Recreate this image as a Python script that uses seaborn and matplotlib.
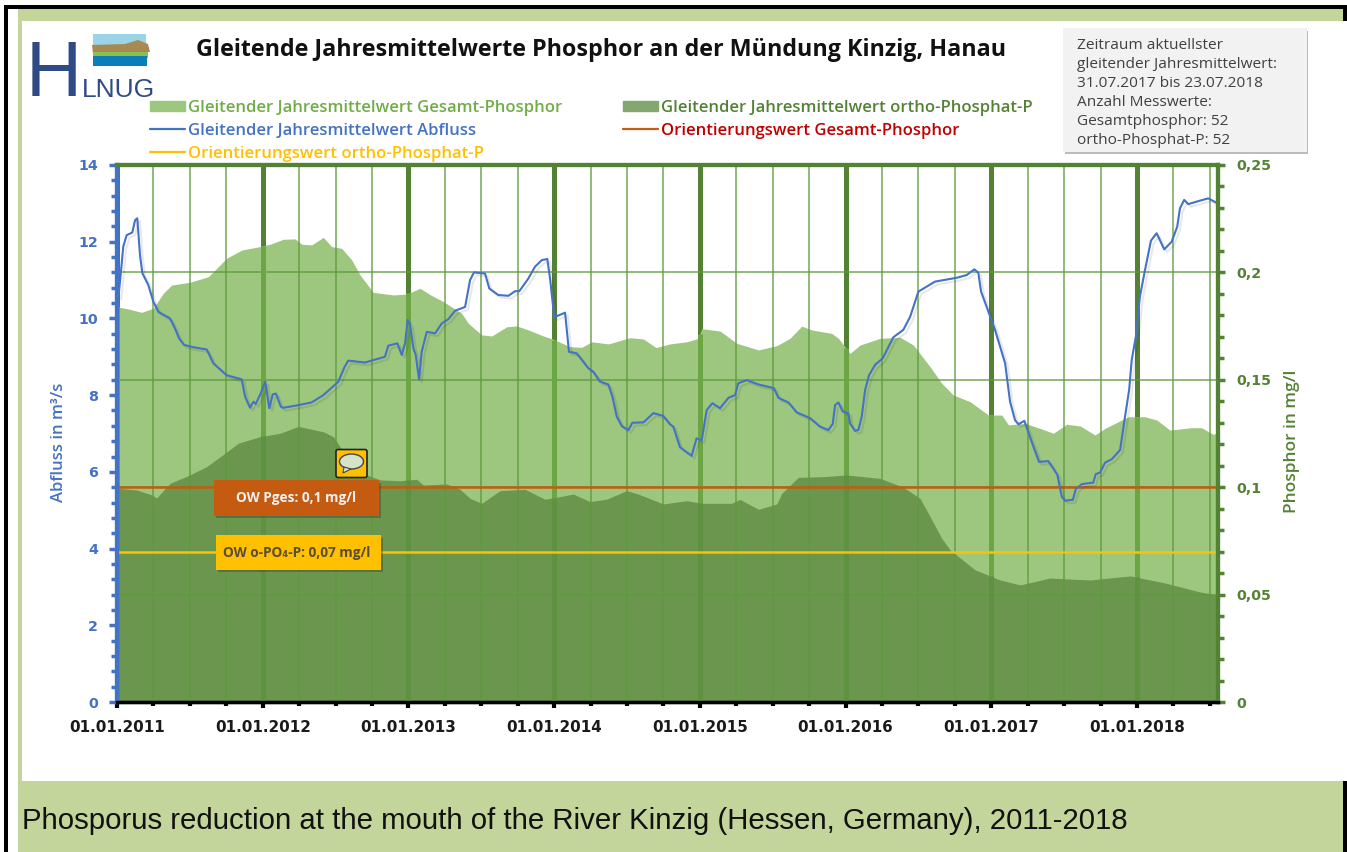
import matplotlib
matplotlib.use("Agg")
import matplotlib.pyplot as plt
import matplotlib.patheffects as pe
import seaborn as sns
import numpy as np
from matplotlib.lines import Line2D
from matplotlib.patches import Patch, Rectangle, Ellipse, Polygon, FancyBboxPatch

W, H = 1347, 852

# Gleitender Jahresmittelwert Abfluss (m3/s): decimal year, value
abfluss_t = [2011.01, 2011.025, 2011.043, 2011.066, 2011.105, 2011.124, 2011.139, 2011.158, 2011.174, 2011.215,
             2011.249, 2011.284, 2011.364, 2011.398, 2011.426, 2011.46, 2011.524, 2011.616, 2011.661, 2011.753,
             2011.856, 2011.879, 2011.913, 2011.936, 2011.952, 2011.981, 2012.018, 2012.045, 2012.069, 2012.091,
             2012.124, 2012.141, 2012.233, 2012.336, 2012.416, 2012.519, 2012.56, 2012.587, 2012.702, 2012.839,
             2012.862, 2012.924, 2012.954, 2012.977, 2012.995, 2013.011, 2013.034, 2013.05, 2013.073, 2013.091,
             2013.126, 2013.183, 2013.229, 2013.274, 2013.32, 2013.389, 2013.423, 2013.45, 2013.526, 2013.555,
             2013.617, 2013.686, 2013.732, 2013.761, 2013.823, 2013.869, 2013.915, 2013.953, 2013.972, 2014.001,
             2014.075, 2014.102, 2014.155, 2014.235, 2014.269, 2014.315, 2014.372, 2014.40, 2014.43, 2014.465,
             2014.51, 2014.537, 2014.613, 2014.681, 2014.749, 2014.795, 2014.818, 2014.864, 2014.944, 2014.977,
             2015.013, 2015.047, 2015.086, 2015.139, 2015.196, 2015.242, 2015.264, 2015.322, 2015.402, 2015.509,
             2015.539, 2015.608, 2015.665, 2015.757, 2015.825, 2015.882, 2015.912, 2015.928, 2015.951, 2015.981,
             2016.019, 2016.031, 2016.065, 2016.088, 2016.111, 2016.134, 2016.161, 2016.203, 2016.255, 2016.328,
             2016.396, 2016.443, 2016.5, 2016.614, 2016.763, 2016.831, 2016.884, 2016.911, 2016.93, 2016.985,
             2017.026, 2017.095, 2017.11, 2017.129, 2017.163, 2017.186, 2017.227, 2017.273, 2017.328, 2017.392,
             2017.454, 2017.484, 2017.507, 2017.56, 2017.58, 2017.621, 2017.70, 2017.717, 2017.746, 2017.781,
             2017.827, 2017.884, 2017.918, 2017.946, 2017.964, 2017.992, 2018.02, 2018.055, 2018.096, 2018.135,
             2018.187, 2018.238, 2018.276, 2018.295, 2018.324, 2018.352, 2018.432, 2018.489, 2018.554]
abfluss = [10.57, 11.13, 11.87, 12.17, 12.24, 12.56, 12.61, 11.65, 11.18, 10.87,
           10.44, 10.17, 10.0, 9.74, 9.48, 9.31, 9.25, 9.19, 8.83, 8.52,
           8.41, 7.96, 7.67, 7.83, 7.77, 8.0, 8.35, 7.66, 8.02, 8.04,
           7.70, 7.67, 7.73, 7.81, 8.0, 8.35, 8.72, 8.9, 8.85, 9.0,
           9.29, 9.35, 9.05, 9.35, 9.96, 9.83, 9.22, 9.05, 8.41, 9.13,
           9.65, 9.61, 9.87, 9.98, 10.2, 10.3, 11.0, 11.2, 11.17, 10.78,
           10.61, 10.59, 10.71, 10.71, 11.04, 11.35, 11.52, 11.55, 11.04, 10.03,
           10.15, 9.13, 9.09, 8.7, 8.61, 8.35, 8.28, 7.96, 7.44, 7.19,
           7.09, 7.28, 7.29, 7.53, 7.46, 7.24, 7.18, 6.64, 6.42, 6.87,
           6.83, 7.61, 7.79, 7.66, 7.93, 8.0, 8.31, 8.39, 8.28, 8.18,
           7.93, 7.81, 7.55, 7.4, 7.18, 7.09, 7.25, 7.74, 7.81, 7.57,
           7.53, 7.26, 7.07, 7.09, 7.44, 8.13, 8.52, 8.79, 8.96, 9.51,
           9.7, 10.04, 10.7, 10.96, 11.06, 11.13, 11.28, 11.19, 10.7, 10.13,
           9.70, 8.83, 8.39, 7.83, 7.35, 7.24, 7.33, 6.83, 6.26, 6.28,
           5.92, 5.35, 5.25, 5.27, 5.55, 5.68, 5.72, 5.94, 5.98, 6.24,
           6.33, 6.57, 7.44, 8.13, 8.92, 9.52, 10.57, 11.26, 12.03, 12.22,
           11.8, 12.0, 12.39, 12.87, 13.09, 12.98, 13.07, 13.13, 13.0]

# Gleitender Jahresmittelwert Gesamt-Phosphor (mg/l)
gesamt_t = [2011.0, 2011.089, 2011.169, 2011.249, 2011.318, 2011.375, 2011.501, 2011.627, 2011.753, 2011.856,
            2011.981, 2012.05, 2012.141, 2012.222, 2012.268, 2012.336, 2012.416, 2012.473, 2012.542, 2012.611,
            2012.668, 2012.759, 2012.896, 2012.988, 2013.08, 2013.16, 2013.24, 2013.366, 2013.411, 2013.503,
            2013.572, 2013.675, 2013.743, 2013.835, 2013.926, 2013.994, 2014.109, 2014.189, 2014.258, 2014.372,
            2014.521, 2014.613, 2014.699, 2014.795, 2014.91, 2014.99, 2015.013, 2015.139, 2015.253, 2015.402,
            2015.528, 2015.619, 2015.699, 2015.768, 2015.905, 2015.951, 2016.031, 2016.1, 2016.237, 2016.374,
            2016.465, 2016.58, 2016.66, 2016.74, 2016.855, 2016.98, 2017.072, 2017.118, 2017.232, 2017.346,
            2017.426, 2017.518, 2017.61, 2017.712, 2017.781, 2017.941, 2018.055, 2018.135, 2018.226, 2018.375,
            2018.443, 2018.523, 2018.556]
gesamt = [.184, .1828, .1814, .1833, .1903, .1941, .1954, .198, .2066, .2104,
          .212, .2131, .2154, .2156, .2131, .2128, .2163, .212, .2112, .2058,
          .1988, .1907, .1895, .1899, .1926, .1892, .1864, .1809, .1763, .1709,
          .1704, .1747, .1751, .1729, .1704, .1689, .1654, .1651, .1677, .1667,
          .1696, .169, .165, .1667, .1677, .1693, .1738, .1727, .167, .1639,
          .1659, .1693, .175, .1732, .1716, .1693, .1623, .1662, .1693, .1698,
          .1662, .1561, .1484, .1429, .1398, .1336, .1336, .129, .1297, .1271,
          .1251, .1293, .1285, .1243, .1274, .1328, .1328, .1313, .1266, .1277,
          .1277, .1246, .1254]

# Gleitender Jahresmittelwert ortho-Phosphat-P (mg/l)
ortho_t = [2011.0, 2011.135, 2011.238, 2011.272, 2011.364, 2011.49, 2011.616, 2011.741, 2011.833, 2011.981,
           2012.12, 2012.244, 2012.416, 2012.485, 2012.553, 2012.714, 2012.805, 2012.942, 2013.057, 2013.102,
           2013.263, 2013.354, 2013.423, 2013.503, 2013.629, 2013.80, 2013.937, 2014.04, 2014.131, 2014.246,
           2014.36, 2014.498, 2014.578, 2014.749, 2014.91, 2015.013, 2015.219, 2015.276, 2015.402, 2015.528,
           2015.562, 2015.676, 2015.848, 2016.008, 2016.237, 2016.396, 2016.511, 2016.58, 2016.66, 2016.717,
           2016.889, 2017.06, 2017.20, 2017.403, 2017.678, 2017.953, 2018.193, 2018.433, 2018.556]
ortho = [.0995, .0987, .0964, .095, .1018, .1054, .1096, .1158, .1205, .1235,
         .1251, .1283, .1258, .1235, .1165, .1057, .1034, .103, .1037, .101,
         .1015, .099, .0948, .0925, .0984, .099, .0944, .0956, .0968, .0933,
         .0944, .0984, .0968, .0922, .0937, .0925, .0925, .0943, .0897, .0922,
         .0971, .1046, .1049, .1057, .1041, .1, .0948, .0863, .0762, .0708,
         .0615, .0568, .0545, .0577, .0568, .0587, .0554, .0512, .0498]

ow_gesamt = 0.1
ow_ortho = 0.07
x_start, x_end = 2011.0, 2018.556
years = list(range(2011, 2019))
year_labels = ["01.01.%d" % y for y in years]
quarters = [y + q for y in years for q in (0.25, 0.5, 0.75) if y + q < x_end]
title = "Gleitende Jahresmittelwerte Phosphor an der Mündung Kinzig, Hanau"
caption = "Phosporus reduction at the mouth of the River Kinzig (Hessen, Germany), 2011-2018"
note_lines = ["Zeitraum aktuellster", "gleitender Jahresmittelwert:", "31.07.2017 bis 23.07.2018",
              "Anzahl Messwerte:", "Gesamtphosphor: 52", "ortho-Phosphat-P: 52"]

BLUE = "#4472C4"
GREEN = "#548235"
LIGHT = "#9DC67F"
DARK = "#6A964E"
ORANGE = "#C55A11"
YELLOW = "#FFC000"
BAND = "#C3D59B"
LOGO = "#2F4A85"

sns.set_theme(style="white")
plt.rcParams["font.family"] = ["Open Sans", "DejaVu Sans"]

fig = plt.figure(figsize=(W / 100, H / 100), dpi=100, facecolor="white")

# frame behind everything, in pixel coordinates
bg = fig.add_axes([0, 0, 1, 1], zorder=0)
bg.set_xlim(0, W)
bg.set_ylim(H, 0)
bg.axis("off")
bg.add_patch(Rectangle((4, 5), W - 4, 4, color="black", lw=0))
bg.add_patch(Rectangle((4, 5), 4, H - 5, color="black", lw=0))
bg.add_patch(Rectangle((18, 9), W - 22, 12, color=BAND, lw=0))
bg.add_patch(Rectangle((18, 9), 4, H - 9, color=BAND, lw=0))
bg.add_patch(Rectangle((18, 781), W - 22, 71, color=BAND, lw=0))
bg.add_patch(Rectangle((1343, 5), 4, 16, color="black", lw=0))
bg.add_patch(Rectangle((1343, 781), 4, 71, color="black", lw=0))
bg.text(22, 821, caption, fontsize=21.15, family="Liberation Sans", color="#111111", va="center", ha="left")

# phosphor axis holds the filled areas, flow axis sits on top of it
rect = [117 / W, 1 - 702 / H, (1218 - 117) / W, (702 - 165) / H]
ax = fig.add_axes(rect, zorder=3)
ax2 = ax.twinx()
ax.set_zorder(ax2.get_zorder() + 1)
ax.patch.set_visible(False)

ax2.fill_between(gesamt_t, gesamt, 0, color=LIGHT, lw=0, zorder=1)
ax2.fill_between(ortho_t, ortho, 0, color=DARK, lw=0, zorder=2)
ax2.set_ylim(0, 0.25)
ax2.set_xlim(x_start, x_end)
ax2.set_yticks(np.arange(0, 0.251, 0.05))
ax2.set_yticklabels(["0", "0,05", "0,1", "0,15", "0,2", "0,25"], color=GREEN, fontsize=10.3,
                    fontweight="bold", family="DejaVu Sans")
ax2.set_yticks(np.arange(0, 0.251, 0.01), minor=True)
ax2.tick_params(axis="y", which="major", length=5, width=2.5, color=GREEN, pad=8, right=True)
ax2.tick_params(axis="y", which="minor", length=4.3, width=2.5, color=GREEN, right=True)
ax2.set_ylabel("Phosphor in mg/l", color=GREEN, fontsize=12.5, fontweight="semibold")
ax2.yaxis.set_label_coords((1284 - 117) / 1101, 0.486)

# grid
for y in np.arange(0.05, 0.21, 0.05):
    ax2.axhline(y, color="#5E9A3E", lw=1.2, alpha=0.8, zorder=3)
for q in quarters:
    ax2.axvline(q, color="#5E9A3E", lw=1.2, alpha=0.8, zorder=3)
for y in years:
    ax2.axvline(y, color=GREEN, lw=3.6, zorder=0.5)
    # the thick year lines look brighter where they cross the areas
    ax2.vlines(y, 0, np.interp(y, gesamt_t, gesamt), color="#6CA644", lw=3.6, zorder=3)
    ax2.vlines(y, 0, np.interp(y, ortho_t, ortho), color="#5E9240", lw=3.6, zorder=3.1)

ax2.plot([x_start, x_end], [ow_gesamt, ow_gesamt], color=ORANGE, lw=1.8, zorder=4)
ax2.plot([x_start, x_end], [ow_ortho, ow_ortho], color=YELLOW, lw=1.8, zorder=4)

sns.lineplot(x=abfluss_t, y=abfluss, ax=ax, color=BLUE, lw=1.5, errorbar=None, estimator=None, sort=False,
             path_effects=[pe.SimpleLineShadow(offset=(2, -2), alpha=0.09, shadow_color="black"), pe.Normal()])

ax.set_xlim(x_start, x_end)
ax.set_ylim(0, 14)
ax.set_yticks(np.arange(0, 15, 2))
ax.set_yticks(np.arange(0, 14.1, 0.4), minor=True)
ax.set_xticks(years)
ax.set_xticklabels(year_labels, fontsize=10.9, fontweight="bold", color="#1a1a1a", family="DejaVu Sans")
ax.set_xticks(quarters, minor=True)
ax.tick_params(axis="y", which="major", length=5.8, width=2.5, color=BLUE, labelcolor=BLUE, labelsize=10.3, pad=8, left=True)
ax.tick_params(axis="y", which="minor", length=4.3, width=2.5, color=BLUE, left=True)
ax.tick_params(axis="x", which="major", length=4.5, width=3, color="black", pad=8.5, bottom=True)
ax.tick_params(axis="x", which="minor", length=2.8, width=3, color="black", bottom=True)
for lab in ax.get_yticklabels():
    lab.set_fontweight("bold")
    lab.set_family("DejaVu Sans")
ax.set_ylabel("Abfluss in m³/s", color=BLUE, fontsize=12, fontweight="semibold")
ax.yaxis.set_label_coords((67 - 117) / 1101, 0.484)
ax.set_xlabel("")

for a in (ax, ax2):
    a.spines["left"].set(color=BLUE, lw=3)
    a.spines["right"].set(color=GREEN, lw=3)
    a.spines["top"].set(color=GREEN, lw=3)
    a.spines["bottom"].set(color="black", lw=2.4)

handles = [Patch(color=LIGHT),
           Line2D([], [], color=BLUE, lw=1.6),
           Line2D([], [], color=YELLOW, lw=1.6),
           Patch(color="#84A66F"),
           Line2D([], [], color=ORANGE, lw=1.6)]
labels = ["Gleitender Jahresmittelwert Gesamt-Phosphor", "Gleitender Jahresmittelwert Abfluss",
          "Orientierungswert ortho-Phosphat-P", "Gleitender Jahresmittelwert ortho-Phosphat-P",
          "Orientierungswert Gesamt-Phosphor"]
fig.legend(handles, labels, ncol=2, loc="upper left", bbox_to_anchor=(135 / W, 1 - 85 / H), frameon=False,
           prop={"size": 12, "weight": "semibold"},
           labelcolor=["#70AD47", BLUE, YELLOW, GREEN, "#C00000"],
           handlelength=2.1, handleheight=0.6, handletextpad=0.2, columnspacing=3.6, labelspacing=0.41)

# overlay for title, logo, note box and callouts
top = fig.add_axes([0, 0, 1, 1], zorder=10)
top.set_xlim(0, W)
top.set_ylim(H, 0)
top.axis("off")
top.patch.set_visible(False)

top.text(196, 50, title, fontsize=16.73, fontweight="bold", color="#111111", va="center", ha="left")

# logo
top.text(54, 96, "H", fontsize=56, color=LOGO, va="baseline", ha="center", family="Liberation Sans")
top.text(82, 97, "LNUG", fontsize=19, color=LOGO, va="baseline", ha="left", family="Liberation Sans")
top.add_patch(Rectangle((93, 34), 53, 12, color="#9BD3E8", lw=0))
top.add_patch(Polygon([(92, 45), (125, 44), (138, 40), (148, 44), (150, 52), (93, 54)], color="#A68A52", lw=0))
top.add_patch(Rectangle((93, 52), 55, 6, color="#8CBF4D", lw=0))
top.add_patch(Rectangle((93, 56), 54, 10, color="#0D7DB8", lw=0))

# note box
top.add_patch(Rectangle((1065, 31), 243, 123, color="#BBBBBB", lw=0))
top.add_patch(Rectangle((1063, 28), 244, 124, color="#F2F2F2", lw=0))
for i, line in enumerate(note_lines):
    top.text(1077, 45.5 + i * 19.1, line, fontsize=11.1, color="#404040", va="center", ha="left")

# callouts
top.add_patch(Rectangle((216, 483), 165, 35, color="#333333", alpha=0.35, lw=0))
top.add_patch(Rectangle((214, 480), 165, 36, color=ORANGE, lw=0))
top.text(296, 498, "OW Pges: 0,1 mg/l", fontsize=9.8, fontweight="bold", color="#F2F2F2", va="center", ha="center")
top.add_patch(Rectangle((218, 538), 165, 34, color="#333333", alpha=0.35, lw=0))
top.add_patch(Rectangle((216, 535), 165, 35, color=YELLOW, lw=0))
top.text(297, 553, "OW o-PO₄-P: 0,07 mg/l", fontsize=9.8, fontweight="bold", color="#5A4A3A", va="center", ha="center")

# comment icon
top.add_patch(FancyBboxPatch((336, 449.5), 31, 28, boxstyle="round,pad=0,rounding_size=2", fc=YELLOW, ec="#222222", lw=1.2))
top.add_patch(Ellipse((351.5, 461.5), 24, 15, fc="#D5E3C8", ec="#444444", lw=1))
top.add_patch(Polygon([(344, 467), (343, 473), (351, 469)], fc="#D5E3C8", ec="#444444", lw=0.8))

fig.savefig("out.png", dpi=100)
